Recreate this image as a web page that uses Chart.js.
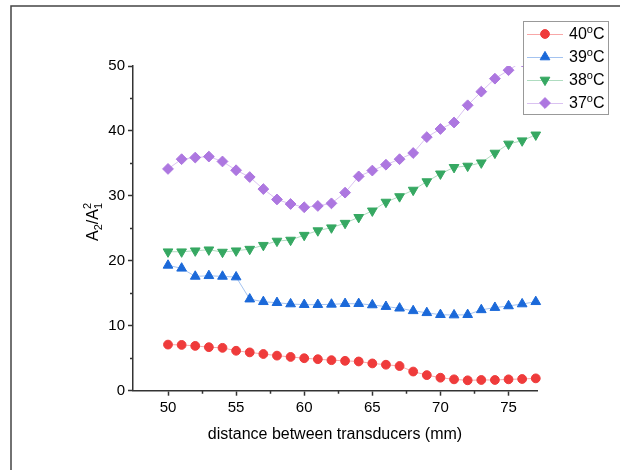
<!DOCTYPE html>
<html>
<head>
<meta charset="utf-8">
<title>A2/A1^2 vs distance between transducers</title>
<script src="https://cdn.jsdelivr.net/npm/chart.js@4.4.0/dist/chart.umd.min.js"></script>
<style>
  html, body { margin: 0; padding: 0; background: #fff; }
  canvas { display: block; }
</style>
</head>
<body>
<canvas id="chart" width="625" height="470"></canvas>
<script>
// distance between transducers (mm)
const distances = [50, 51, 52, 53, 54, 55, 56, 57, 58, 59, 60, 61, 62, 63,
                   64, 65, 66, 67, 68, 69, 70, 71, 72, 73, 74, 75, 76, 77];

// A2/A1^2 for each temperature
const ratio40 = [7.1, 7.05, 6.9, 6.7, 6.6, 6.15, 5.9, 5.65, 5.4, 5.2, 5.0, 4.85, 4.7, 4.6,
                 4.5, 4.2, 4.0, 3.8, 2.95, 2.4, 2.0, 1.75, 1.6, 1.65, 1.65, 1.75, 1.8, 1.9];
const ratio39 = [19.3, 18.85, 17.6, 17.7, 17.6, 17.5, 14.1, 13.7, 13.55, 13.35, 13.25, 13.25, 13.3, 13.4,
                 13.4, 13.2, 12.95, 12.7, 12.3, 12.0, 11.7, 11.65, 11.7, 12.45, 12.8, 13.05, 13.35, 13.7];
const ratio38 = [21.4, 21.4, 21.55, 21.7, 21.35, 21.55, 21.8, 22.4, 23.05, 23.2, 23.95, 24.65, 25.1, 25.8,
                 26.7, 27.7, 29.05, 29.9, 30.9, 32.2, 33.4, 34.4, 34.6, 35.1, 36.6, 38.0, 38.5, 39.4];
const ratio37 = [34.15, 35.65, 35.9, 36.05, 35.3, 33.95, 32.9, 31.05, 29.45, 28.75, 28.25, 28.45, 28.85, 30.5,
                 33.0, 33.9, 34.8, 35.65, 36.6, 39.05, 40.3, 41.3, 43.95, 46.05, 48.05, 49.35, 50.7, 52.0];

const seriesTemps = ['40', '39', '38', '37'];   // shown as 40°C etc.
const xTickValues = [50, 55, 60, 65, 70, 75];
const xMinorTicks = [52.5, 57.5, 62.5, 67.5, 72.5];
const yTickValues = [0, 10, 20, 30, 40, 50];
const yMinorTicks = [5, 15, 25, 35, 45];

const FONT = 'Arial, "Liberation Sans", sans-serif';
const AXIS = '#333';

const styles = [
  { mark: '#ef3b3b', line: 'rgba(239,59,59,0.45)',  shape: 'circle',   r: 4.4, rot: 0 },
  { mark: '#1b69d9', line: 'rgba(27,105,217,0.4)',  shape: 'triangle', r: 5.6, rot: 0 },
  { mark: '#36a862', line: 'rgba(54,168,98,0.4)',   shape: 'triangle', r: 5.6, rot: 180 },
  { mark: '#ad77e0', line: 'rgba(173,119,224,0.45)', shape: 'rectRot', r: 5.4, rot: 0 }
];
const seriesValues = [ratio40, ratio39, ratio38, ratio37];

const datasets = seriesValues.map((vals, i) => ({
  label: seriesTemps[i] + '°C',
  data: distances.map((d, j) => ({ x: d, y: vals[j] })),
  borderColor: styles[i].line,
  borderWidth: 1,
  backgroundColor: styles[i].mark,
  pointBackgroundColor: styles[i].mark,
  pointBorderColor: styles[i].mark,
  pointBorderWidth: 1,
  pointStyle: styles[i].shape,
  pointRadius: styles[i].r,
  pointRotation: styles[i].rot,
  tension: 0,
  // markers may spill past the sides, but nothing is drawn above 50
  clip: { left: 10, right: 10, top: 0, bottom: 10 }
}));

// superscript helper: draws base, small raised "o", then "C"
function drawDegLabel(ctx, x, y, num) {
  ctx.font = '16px ' + FONT;
  ctx.fillText(num, x, y);
  let w = ctx.measureText(num).width;
  ctx.font = '11px ' + FONT;
  ctx.fillText('o', x + w, y - 5);
  w += ctx.measureText('o').width;
  ctx.font = '16px ' + FONT;
  ctx.fillText('C', x + w, y);
}

const decor = {
  id: 'decor',
  beforeDraw(chart) {
    const ctx = chart.ctx;
    ctx.save();
    ctx.fillStyle = '#fff';
    ctx.fillRect(0, 0, chart.width, chart.height);
    // page frame (top and left edges)
    ctx.strokeStyle = '#444';
    ctx.lineWidth = 1.5;
    ctx.beginPath();
    ctx.moveTo(11, chart.height);
    ctx.lineTo(11, 6);
    ctx.lineTo(620, 6);
    ctx.stroke();
    ctx.restore();
  },
  afterDraw(chart) {
    const ctx = chart.ctx;
    const xs = chart.scales.x, ys = chart.scales.y;
    const area = chart.chartArea;
    ctx.save();

    // minor ticks
    ctx.strokeStyle = AXIS;
    ctx.lineWidth = 1.5;
    ctx.beginPath();
    xMinorTicks.forEach(v => {
      const px = Math.round(xs.getPixelForValue(v)) + 0.5;
      ctx.moveTo(px, area.bottom);
      ctx.lineTo(px, area.bottom + 3);
    });
    yMinorTicks.forEach(v => {
      const py = Math.round(ys.getPixelForValue(v)) + 0.5;
      ctx.moveTo(area.left, py);
      ctx.lineTo(area.left - 3, py);
    });
    ctx.stroke();

    // y axis title: A2/A1^2 with sub/superscripts, rotated
    ctx.translate(98, 222);
    ctx.rotate(-Math.PI / 2);
    ctx.fillStyle = '#000';
    ctx.textBaseline = 'alphabetic';
    const big = '16px ' + FONT, small = '11px ' + FONT;
    ctx.font = big;
    const wA = ctx.measureText('A').width;
    const wSl = ctx.measureText('/').width;
    ctx.font = small;
    const wS = ctx.measureText('2').width;
    const total = wA + wS + wSl + wA + wS;
    let x = -total / 2;
    ctx.font = big; ctx.fillText('A', x, 0); x += wA;
    ctx.font = small; ctx.fillText('2', x, 4); x += wS;
    ctx.font = big; ctx.fillText('/', x, 0); x += wSl;
    ctx.fillText('A', x, 0); x += wA;
    ctx.font = small; ctx.fillText('1', x, 4); ctx.fillText('2', x, -7);
    ctx.setTransform(1, 0, 0, 1, 0, 0);

    // legend box
    const lx = 523, ly = 21, lw = 85, lh = 93;
    ctx.fillStyle = '#fff';
    ctx.fillRect(lx, ly, lw, lh);
    ctx.strokeStyle = '#999';
    ctx.lineWidth = 1;
    ctx.strokeRect(lx + 0.5, ly + 0.5, lw, lh);
    const rows = [34, 57, 80, 103];
    chart.data.datasets.forEach((ds, i) => {
      const y = rows[i];
      ctx.strokeStyle = ds.borderColor;
      ctx.lineWidth = 1;
      ctx.beginPath();
      ctx.moveTo(527, y + 0.5);
      ctx.lineTo(563, y + 0.5);
      ctx.stroke();
      ctx.fillStyle = ds.pointBackgroundColor;
      ctx.strokeStyle = ds.pointBorderColor;
      Chart.helpers.drawPoint(ctx, {
        pointStyle: ds.pointStyle,
        radius: ds.pointRadius,
        rotation: ds.pointRotation,
        borderWidth: 1
      }, 545, y);
      ctx.fillStyle = '#000';
      ctx.textBaseline = 'middle';
      drawDegLabel(ctx, 569, y + 1, seriesTemps[i]);
    });
    ctx.restore();
  }
};

new Chart(document.getElementById('chart'), {
  type: 'line',
  data: { datasets },
  options: {
    responsive: false,
    animation: false,
    devicePixelRatio: 1,
    layout: { padding: { left: 0, right: 88, top: 66, bottom: 0 } },
    plugins: { legend: { display: false }, tooltip: { enabled: false } },
    scales: {
      x: {
        type: 'linear',
        min: 47.43,
        max: 77.09,
        afterBuildTicks: s => { s.ticks = xTickValues.map(v => ({ value: v })); },
        afterFit: s => { s.height = 79.3; },
        grid: { display: true, drawOnChartArea: false, drawTicks: true,
                tickLength: 5, tickWidth: 1.5, tickColor: AXIS },
        border: { display: true, color: AXIS, width: 1.5 },
        ticks: { color: '#000', padding: 3, maxRotation: 0,
                 font: { family: FONT, size: 15 } },
        title: { display: true, text: 'distance between transducers (mm)',
                 color: '#000', font: { family: FONT, size: 16 },
                 padding: { top: 0, bottom: 26 } }
      },
      y: {
        type: 'linear',
        min: 0,
        max: 50,
        afterBuildTicks: s => { s.ticks = yTickValues.map(v => ({ value: v })); },
        afterFit: s => { s.width = 133; },
        grid: { display: true, drawOnChartArea: false, drawTicks: true,
                tickLength: 5, tickWidth: 1.5, tickColor: AXIS },
        border: { display: true, color: AXIS, width: 1.5 },
        ticks: { color: '#000', padding: 3, font: { family: FONT, size: 15 } }
      }
    }
  },
  plugins: [decor]
});
</script>
</body>
</html>
